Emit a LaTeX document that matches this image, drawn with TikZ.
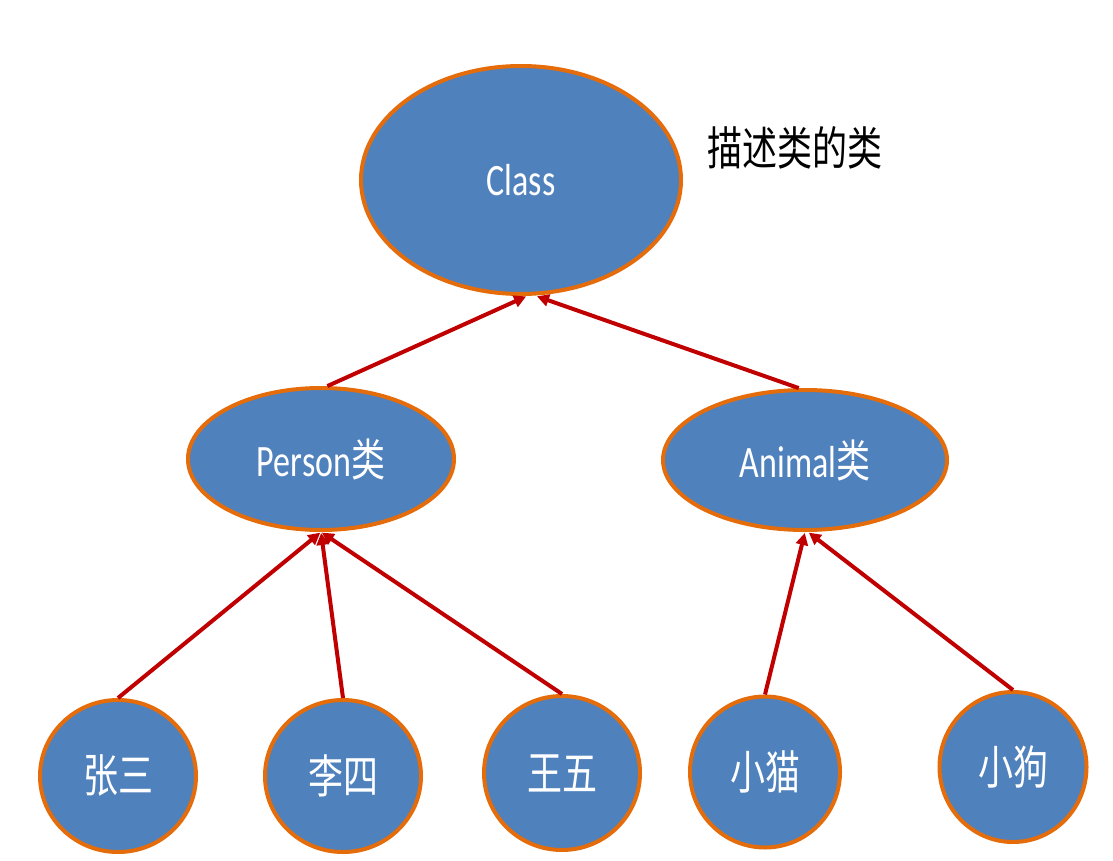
\documentclass[tikz,border=0pt]{standalone}
\usepackage{fontspec}
\setmainfont{Carlito}
\newfontfamily\cjk{Noto Sans CJK SC}
\usetikzlibrary{arrows.meta,shapes.geometric}
\definecolor{nodeblue}{HTML}{4F81BD}
\definecolor{nodeedge}{HTML}{E46C0A}
\definecolor{arrowred}{HTML}{C00000}
\newcommand{\tallt}[1]{\scalebox{1}[1.32]{#1}}
\begin{document}
\begin{tikzpicture}[x=1pt,y=-1pt,
  ell/.style={ellipse,draw=nodeedge,fill=nodeblue,line width=4pt,text=white,inner sep=0pt,font=\fontsize{34}{36}\selectfont},
  leaf/.style={ell,font=\cjk\fontsize{35}{38}\selectfont},
  inh/.style={draw=arrowred,line width=4pt,-{Triangle[length=12pt,width=12pt]},shorten >=1pt}]
\useasboundingbox (0,0) rectangle (1113,861);
\node[ell,minimum width=320,minimum height=228] (class) at (521,180) {\tallt{Class}};
\node[ell,minimum width=266,minimum height=142] (person) at (321,459) {\tallt{Person{\cjk 类}}};
\node[ell,minimum width=284,minimum height=140] (animal) at (805,460) {\tallt{Animal{\cjk 类}}};
\node[leaf,minimum width=156,minimum height=152] (zs) at (118,776) {\tallt{张三}};
\node[leaf,minimum width=156,minimum height=152] (ls) at (343,776) {\tallt{李四}};
\node[leaf,minimum width=156,minimum height=154] (ww) at (562,773) {\tallt{王五}};
\node[leaf,minimum width=150,minimum height=151] (xm) at (765,772) {\tallt{小猫}};
\node[leaf,minimum width=147,minimum height=150] (xg) at (1013,767) {\tallt{小狗}};
\node[font=\cjk\fontsize{35}{38}\selectfont,anchor=center] (desc) at (795,148) {\tallt{描述类的类}};
\draw[inh] (person.85) -- ([xshift=6pt]class.south);
\draw[inh] (animal.95) -- ([xshift=15pt]class.south);
\draw[inh] (zs.north) -- (person.south);
\draw[inh] (ls.north) -- (person.south);
\draw[inh] (ww.north) -- (person.south);
\draw[inh] (xm.north) -- (animal.south);
\draw[inh] (xg.north) -- ([xshift=3pt]animal.south);
\end{tikzpicture}
\end{document}
